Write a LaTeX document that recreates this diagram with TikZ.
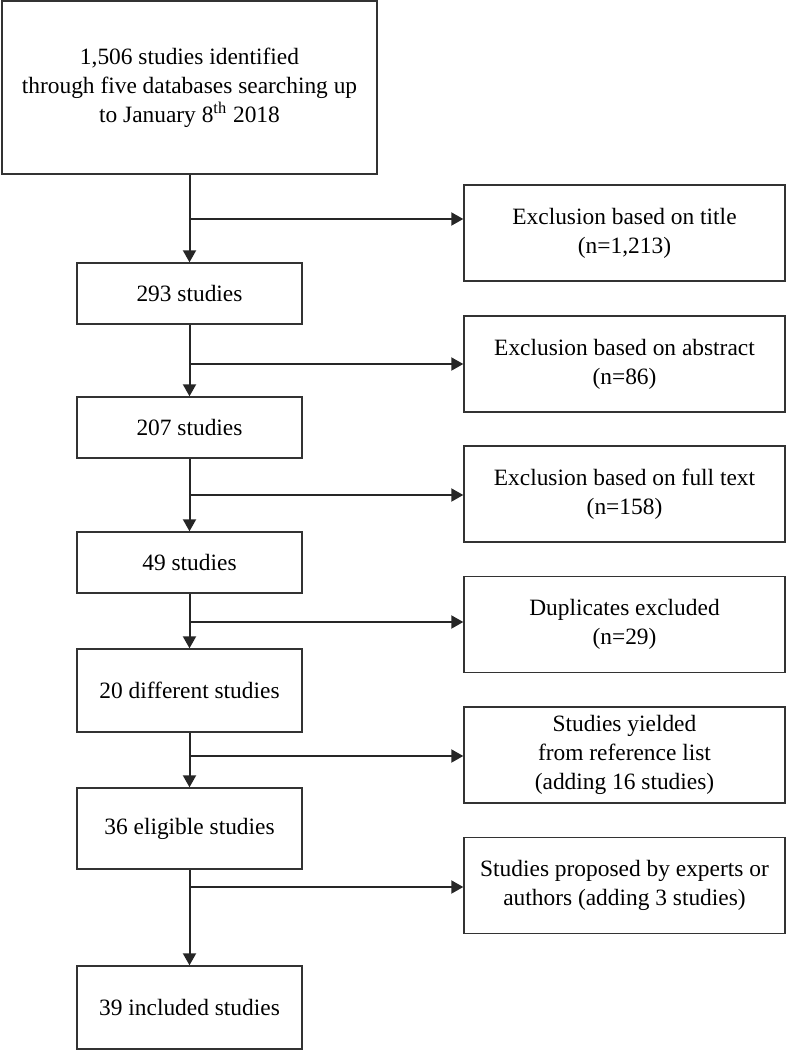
\documentclass[tikz,border=0pt]{standalone}
\usepackage{fontspec}
\setmainfont{Liberation Serif}
\usetikzlibrary{arrows.meta, positioning}

\begin{document}
\begin{tikzpicture}[
    x=0.5pt, y=-0.5pt,
    font=\fontsize{11.7}{14.4}\selectfont,
    box/.style={rectangle, draw=black!80, line width=0.7pt, fill=white, align=center, inner sep=0pt, minimum width=112.5pt},
    sidebox/.style={box, minimum width=160.5pt, minimum height=48pt},
    flow/.style={-{Triangle[length=6pt, width=6.5pt]}, line width=1pt, draw=black!85, fill=black!85},
]
\useasboundingbox (0,0) rectangle (786,1050);

% Main column
\node[box, minimum width=187.5pt, minimum height=86.5pt] (search) at (189.5,87.5) {1,506 studies identified\\through five databases searching up\\to January 8\textsuperscript{th} 2018};
\node[box, minimum height=30.5pt] (n293) at (189.5,293.5) {293 studies};
\node[box, minimum height=30.5pt] (n207) at (189.5,427.5) {207 studies};
\node[box, minimum height=30.5pt] (n49) at (189.5,562.5) {49 studies};
\node[box, minimum height=41.5pt] (n20) at (189.5,690.5) {20 different studies};
\node[box, minimum height=40.5pt] (n36) at (189.5,828.5) {36 eligible studies};
\node[box, minimum height=41.5pt] (n39) at (189.5,1007.5) {39 included studies};

% Side boxes
\node[sidebox] (title) at (624.5,233) {Exclusion based on title\\(n=1,213)};
\node[sidebox] (abstract) at (624.5,364) {Exclusion based on abstract\\(n=86)};
\node[sidebox] (fulltext) at (624.5,494) {Exclusion based on full text\\(n=158)};
\node[sidebox] (dupl) at (624.5,624.5) {Duplicates excluded\\(n=29)};
\node[sidebox] (reflist) at (624.5,755) {Studies yielded\\from reference list\\(adding 16 studies)};
\node[sidebox] (experts) at (624.5,885.5) {Studies proposed by experts or\\authors (adding 3 studies)};

% Branch points
\coordinate (b1) at (189.5,219);
\coordinate (b2) at (189.5,364);
\coordinate (b3) at (189.5,495);
\coordinate (b4) at (189.5,622);
\coordinate (b5) at (189.5,756);
\coordinate (b6) at (189.5,887);

% Vertical flow
\draw[flow] (search) -- (n293);
\draw[flow] (n293) -- (n207);
\draw[flow] (n207) -- (n49);
\draw[flow] (n49) -- (n20);
\draw[flow] (n20) -- (n36);
\draw[flow] (n36) -- (n39);

% Side arrows
\draw[flow] (b1) -- (b1 -| title.west);
\draw[flow] (b2) -- (b2 -| abstract.west);
\draw[flow] (b3) -- (b3 -| fulltext.west);
\draw[flow] (b4) -- (b4 -| dupl.west);
\draw[flow] (b5) -- (b5 -| reflist.west);
\draw[flow] (b6) -- (b6 -| experts.west);

\end{tikzpicture}
\end{document}
